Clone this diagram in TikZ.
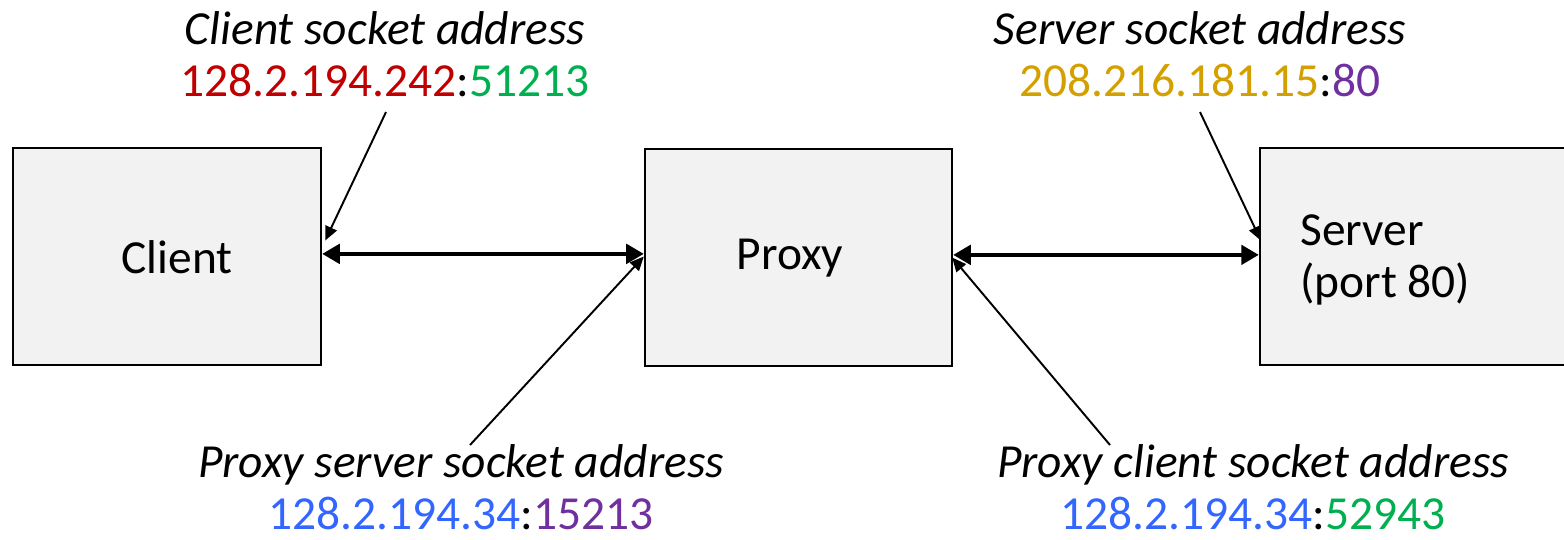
\documentclass[tikz,border=0pt]{standalone}
\usepackage{fontspec}
\setmainfont{Carlito}
\usetikzlibrary{arrows.meta}
\definecolor{boxgray}{HTML}{F2F2F2}
\definecolor{addrred}{HTML}{C00000}
\definecolor{addrgreen}{HTML}{00B050}
\definecolor{addrgold}{HTML}{D4A000}
\definecolor{addrpurple}{HTML}{7030A0}
\definecolor{addrblue}{HTML}{3366FF}
\tikzset{
  box/.style={draw=black, line width=1.4pt, fill=boxgray, inner sep=0pt},
  addr/.style={align=center, inner sep=0pt, anchor=north},
  link/.style={line width=2.3pt, {Triangle[length=10pt,width=11pt]}-{Triangle[length=10pt,width=11pt]}},
  pointer/.style={line width=1.1pt, -{Triangle[length=8pt,width=7pt]}},
}
\begin{document}
\begin{tikzpicture}[x=0.02cm, y=-0.02cm, font=\fontsize{27}{29.6}\selectfont]
\useasboundingbox (0,0) rectangle (1564,539);
\node[box, minimum width=6.16cm, minimum height=4.34cm] (client) at (167,256.5) {};
\node[box, minimum width=6.14cm, minimum height=4.34cm] (proxy) at (798.5,257.5) {};
\node[box, minimum width=6.6cm, minimum height=4.34cm] (server) at (1425,256.5) {};
\node (clientname) at (177,257) {Client};
\node (proxyname) at (790,258) {Proxy};
\node[anchor=north west, align=left, inner sep=0pt] (servername) at (1300,214) {Server\\(port 80)};
\node[addr] (clientaddr) at (385,11) {\textit{Client socket address}\\\textcolor{addrred}{128.2.194.242}:\textcolor{addrgreen}{51213}};
\node[addr] (serveraddr) at (1200,11) {\textit{Server socket address}\\\textcolor{addrgold}{208.216.181.15}:\textcolor{addrpurple}{80}};
\node[addr] (pservaddr) at (461,444) {\textit{Proxy server socket address}\\\textcolor{addrblue}{128.2.194.34}:\textcolor{addrpurple}{15213}};
\node[addr] (pcliaddr) at (1253,444) {\textit{Proxy client socket address}\\\textcolor{addrblue}{128.2.194.34}:\textcolor{addrgreen}{52943}};
\draw[link] ([yshift=1.5pt]client.east) -- ([yshift=1.5pt]client.east -| proxy.west);
\draw[link] ([yshift=1.5pt]proxy.east) -- ([yshift=1.5pt]proxy.east -| server.west);
\draw[pointer] ([shift={(1,15)}]clientaddr.south) -- ([shift={(3,-16)}]client.east);
\draw[pointer] ([shift={(0,15)}]serveraddr.south) -- ([shift={(2,-16)}]server.west);
\draw[pointer] ([shift={(9,1)}]pservaddr.north) -- ([shift={(0,-1)}]proxy.west);
\draw[pointer] ([shift={(-143,1)}]pcliaddr.north) -- ([shift={(-1,0)}]proxy.east);
\end{tikzpicture}
\end{document}
